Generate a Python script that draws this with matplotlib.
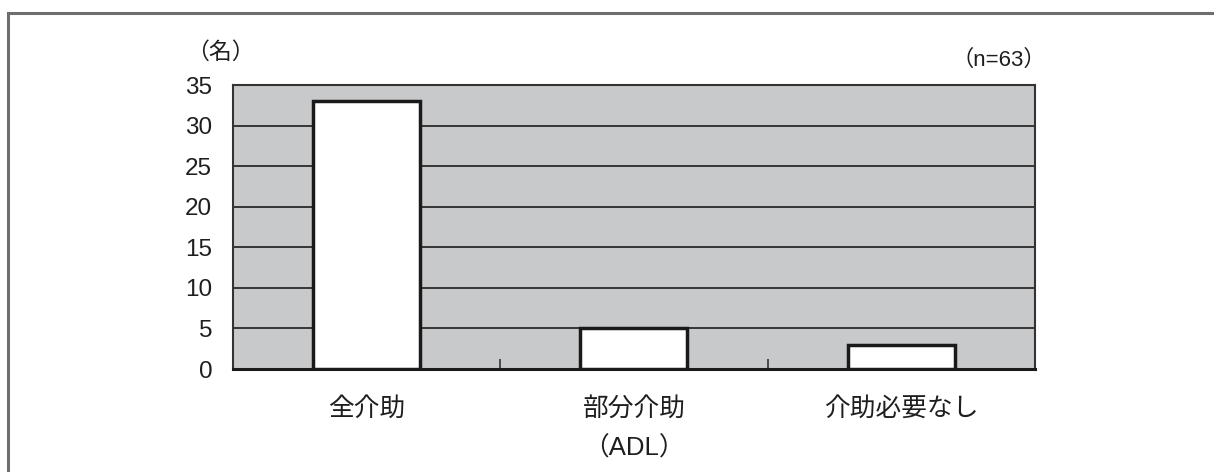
import matplotlib.pyplot as plt
from matplotlib.lines import Line2D
from matplotlib.ticker import FixedLocator

plt.rcParams['font.family'] = ['Liberation Sans', 'Noto Sans CJK JP', 'DejaVu Sans']

# ADL level counts
categories = ['全介助', '部分介助\n（ADL）', '介助必要なし']
counts = [33, 5, 3]
y_ticks = [0, 5, 10, 15, 20, 25, 30, 35]

fig = plt.figure(figsize=(12.14, 4.72), dpi=100)
ax = fig.add_axes([0.1919, 0.2182, 0.6606, 0.6017])

ax.set_facecolor('#c8c9cb')
ax.set_axisbelow(True)
ax.yaxis.grid(True, color='#2a2a2a', linewidth=1.3)

x = range(len(categories))
ax.bar(x, counts, width=0.4, color='white', edgecolor='#1a1a1a', linewidth=2.5, zorder=3)

ax.set_xlim(-0.5, len(categories) - 0.5)
ax.set_ylim(0, 35)
ax.yaxis.set_major_locator(FixedLocator(y_ticks))

ax.set_xticks(list(x))
ax.set_xticklabels(categories, fontsize=18.5, color='#1e1e1e', linespacing=1.8)
ax.xaxis.set_minor_locator(FixedLocator([0.5, 1.5]))
ax.tick_params(axis='x', which='major', length=0, pad=20)
ax.tick_params(axis='x', which='minor', direction='in', length=7, width=1.2, color='#333333')
ax.tick_params(axis='y', length=0, pad=15, labelsize=17.5, labelcolor='#1e1e1e')

for side in ['left', 'right', 'top']:
    ax.spines[side].set_color('#333333')
    ax.spines[side].set_linewidth(1.5)
ax.spines['bottom'].set_color('#1a1a1a')
ax.spines['bottom'].set_linewidth(2.2)

fig.text(220 / 1214, 1 - 52 / 472, '（名）', fontsize=16.5, ha='center', va='center', color='#1e1e1e')
fig.text(1046 / 1214, 1 - 60 / 472, '（n=63）', fontsize=16, ha='right', va='center', color='#1e1e1e')

# outer frame (top and left edges)
frame = dict(color='#6e6e6e', linewidth=2.2, transform=fig.transFigure)
fig.add_artist(Line2D([8 / 1214, 1.0], [1 - 13 / 472] * 2, **frame))
fig.add_artist(Line2D([8 / 1214] * 2, [0.0, 1 - 13 / 472], **frame))

fig.savefig('out.png', dpi=100)
